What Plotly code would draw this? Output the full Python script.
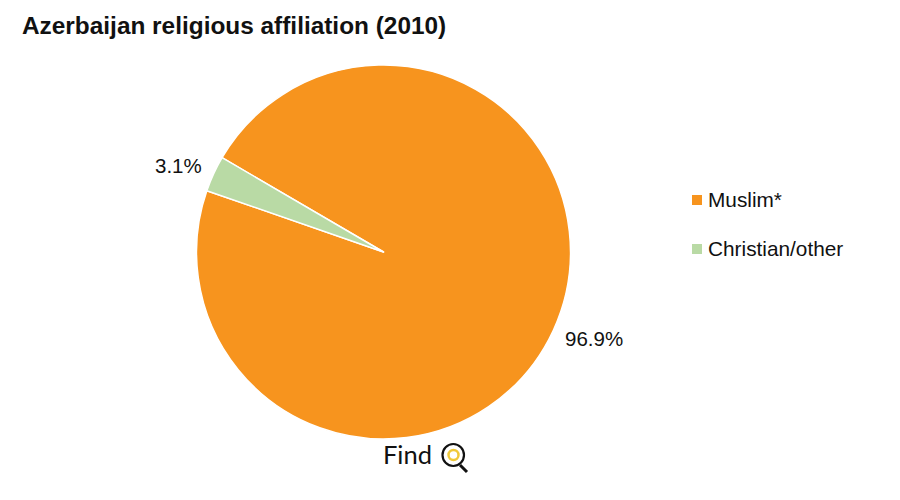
import plotly.graph_objects as go

categories = ["Muslim*", "Christian/other"]
values = [96.9, 3.1]
colors = ["#F7941E", "#B9DAA5"]
value_label_positions = [(594, 338), (178, 165)]
FONT = "Liberation Sans"
W, H = 884, 484
PAGE_MARGIN = 8

def px(x): return (x - PAGE_MARGIN) / W
def py(y): return 1 - (y - PAGE_MARGIN) / H

fig = go.Figure(go.Pie(
    labels=categories, values=values, sort=False, direction="clockwise", rotation=300.3,
    marker=dict(colors=colors, line=dict(color="white", width=1.5)),
    textinfo="none", hoverinfo="label+percent",
    domain=dict(x=[px(196.5), px(570.5)], y=[py(439), py(65)]),
    showlegend=False, automargin=False,
))

shapes = []
annotations = [
    dict(text="<b>Azerbaijan religious affiliation (2010)</b>", x=px(20), y=py(25), xref="paper", yref="paper",
         xanchor="left", yanchor="middle", showarrow=False, font=dict(family=FONT, size=24.4, color="#111111")),
    dict(text="Find", x=px(381), y=py(454), xref="paper", yref="paper", xanchor="left", yanchor="middle",
         showarrow=False, font=dict(family="Lato", size=25.5, color="#111111")),
]
for v, (x, y) in zip(values, value_label_positions):
    annotations.append(dict(text=f"{v:.1f}%", x=px(x), y=py(y), xref="paper", yref="paper", xanchor="center",
                            yanchor="middle", showarrow=False, font=dict(family=FONT, size=20.5, color="#111111")))
for cat, col, y in zip(categories, colors, [200, 249]):
    shapes.append(dict(type="rect", xref="paper", yref="paper", x0=px(692), x1=px(702), y0=py(y + 5), y1=py(y - 5),
                       fillcolor=col, line=dict(width=0)))
    annotations.append(dict(text=cat, x=px(706), y=py(y - 1), xref="paper", yref="paper", xanchor="left", yanchor="middle",
                            showarrow=False, font=dict(family=FONT, size=20.8, color="#111111")))

# magnifier mark of the logo
shapes += [
    dict(type="line", xref="paper", yref="paper", x0=px(460), x1=px(467), y0=py(465), y1=py(472),
         line=dict(color="#111111", width=3)),
    dict(type="circle", xref="paper", yref="paper", x0=px(442.5), x1=px(464), y0=py(466), y1=py(444),
         fillcolor="white", line=dict(color="#111111", width=2.2)),
    dict(type="circle", xref="paper", yref="paper", x0=px(448.5), x1=px(458.5), y0=py(460), y1=py(450),
         fillcolor="white", line=dict(color="#F0C93A", width=2.5)),
]

fig.update_layout(width=W, height=H, margin=dict(l=0, r=0, t=0, b=0), paper_bgcolor="white",
                  plot_bgcolor="white", shapes=shapes, annotations=annotations)
fig.write_html("out.html")
